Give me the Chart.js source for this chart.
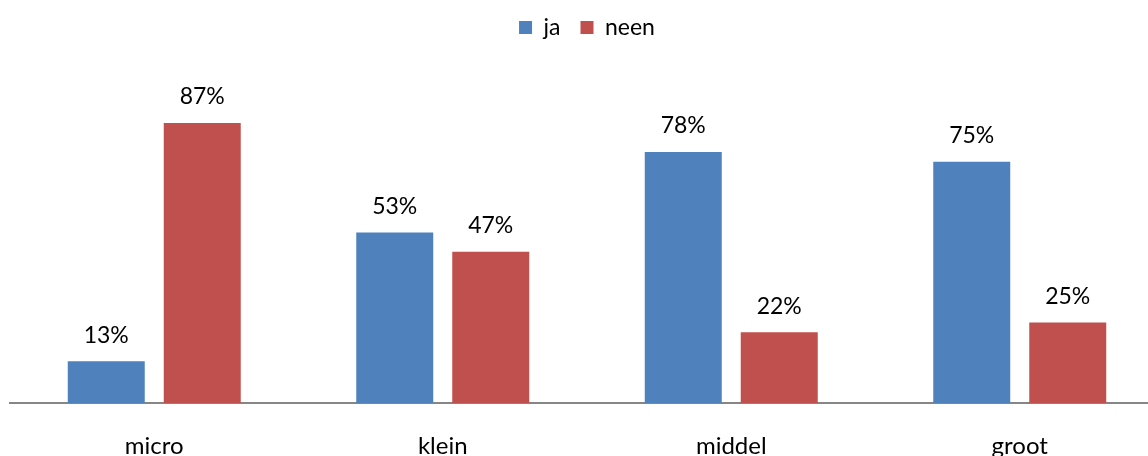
<!DOCTYPE html>
<html>
<head>
<meta charset="utf-8">
<script src="https://cdn.jsdelivr.net/npm/chart.js@4.4.1/dist/chart.umd.min.js"></script>
<style>
  html, body { margin: 0; padding: 0; background: #fff; overflow: hidden; }
  #wrap { position: relative; width: 1175px; height: 470px; margin-top: -4px; }
</style>
</head>
<body>
<div id="wrap"><canvas id="chart"></canvas></div>
<script>
// categories and answer shares (percent)
const categories = ["micro", "klein", "middel", "groot"];
const jaValues   = [13, 53, 78, 75];
const neenValues = [87, 47, 22, 25];
const seriesNames = ["ja", "neen"];

const FONT = "Lato, 'Open Sans', sans-serif";

// percent labels above each bar
const valueLabels = {
  id: "valueLabels",
  afterDatasetsDraw(chart) {
    const ctx = chart.ctx;
    ctx.save();
    ctx.font = "23px " + FONT;
    ctx.fillStyle = "#000";
    ctx.textAlign = "center";
    ctx.textBaseline = "middle";
    chart.data.datasets.forEach((ds, i) => {
      chart.getDatasetMeta(i).data.forEach((bar, j) => {
        ctx.fillText(ds.data[j] + "%", bar.x, bar.y - 26);
      });
    });
    ctx.restore();
  }
};

new Chart(document.getElementById("chart"), {
  type: "bar",
  data: {
    labels: categories,
    datasets: [
      { label: seriesNames[0], data: jaValues,   backgroundColor: "#4F81BD" },
      { label: seriesNames[1], data: neenValues, backgroundColor: "#C0504D" }
    ]
  },
  options: {
    responsive: true,
    maintainAspectRatio: false,
    animation: false,
    layout: { padding: { left: 10, right: 11, top: 0, bottom: 0 } },
    categoryPercentage: 0.6655,
    barPercentage: 0.802,
    plugins: {
      legend: {
        position: "top",
        labels: {
          boxWidth: 13, boxHeight: 13, padding: 20,
          color: "#000",
          font: { family: FONT, size: 23 }
        }
      },
      tooltip: { enabled: false }
    },
    scales: {
      x: {
        grid: { display: false, drawTicks: false },
        border: { display: true, color: "#868686", width: 2 },
        ticks: { color: "#000", padding: 29, font: { family: FONT, size: 24 } },
        afterFit(scale) { scale.height = 63; }
      },
      y: { display: false, min: 0, max: 110 }
    }
  },
  plugins: [valueLabels]
});
</script>
</body>
</html>
